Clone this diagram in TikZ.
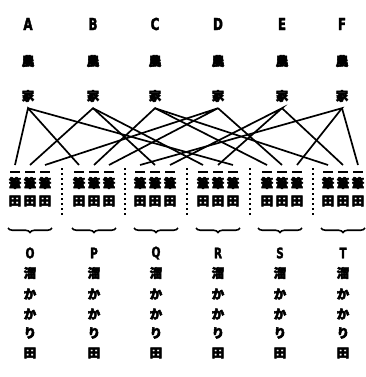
\documentclass[tikz,border=0pt]{standalone}
\usepackage{fontspec}
\newfontfamily\jp[FakeBold=4]{Noto Sans CJK JP}
\newfontfamily\lat[FakeStretch=0.72,FakeBold=2]{DejaVu Sans}
\usetikzlibrary{decorations.pathreplacing}
\begin{document}
\begin{tikzpicture}[x=1pt,y=-1pt,
  ltr/.style={font=\lat\bfseries\fontsize{16.5}{17}\selectfont, inner sep=0pt},
  ltrs/.style={font=\lat\bfseries\fontsize{14.5}{15}\selectfont, inner sep=0pt},
  kj/.style={font=\jp\bfseries\fontsize{12.5}{12.5}\selectfont, inner sep=0pt},
  house/.style={kj, minimum height=24pt},
  link/.style={line width=1.7pt},
  bar/.style={fill=black, minimum width=10pt, minimum height=1.8pt, inner sep=0pt},
  sepline/.style={line width=2pt, dash pattern=on 2pt off 3pt},
  brc/.style={decorate, decoration={brace, amplitude=4.5pt}, line width=1.6pt}]
\useasboundingbox (0,0) rectangle (366,377);
% farms
\foreach \i/\L/\x in {1/A/28,2/B/93,3/C/155,4/D/218,5/E/282,6/F/342}{
  \node[ltr] (L\i) at (\x,24) {\L};
  \node[kj] (N\i) at (\x,61) {農};
  \node[house] (H\i) at (\x,96) {家};
}
% parcels
\foreach \g/\gx in {1/30,2/94,3/155,4/218,5/282,6/343}{
  \foreach \k in {1,2,3}{
    \pgfmathsetmacro{\cx}{\gx+(\k-2)*15}
    \coordinate (t\g\k) at (\cx,165);
    \node[bar] (b\g\k) at (\cx,172) {};
    \node[kj] (f\g\k) at (\cx,183) {筆};
    \node[kj] (d\g\k) at (\cx,201) {田};
  }
}
% separators
\foreach \sx in {62,125,187,250,313}{
  \draw[sepline] (\sx,168) -- (\sx,217);
}
% braces and areas
\foreach \g/\gx/\L in {1/30/O,2/94/P,3/156/Q,4/218/R,5/280/S,6/343/T}{
  \draw[brc] (\gx+22,228) -- (\gx-22,228);
  \node[ltrs] (A\g) at (\gx,253) {\L};
  \node[kj] (w\g) at (\gx,273) {溜};
  \node[kj] (k\g) at (\gx,294) {か};
  \node[kj] (kk\g) at (\gx,314) {か};
  \node[kj] (r\g) at (\gx,333) {り};
  \node[kj] (y\g) at (\gx,353) {田};
}
% links
\foreach \h/\a/\b/\c in {1/11/21/43,2/12/32/41,3/22/51/61,4/13/23/52,5/33/42/62,6/31/53/63}{
  \draw[link] (t\a) -- (H\h.south) -- (t\b);
  \draw[link] (H\h.south) -- (t\c);
}
\end{tikzpicture}
\end{document}
